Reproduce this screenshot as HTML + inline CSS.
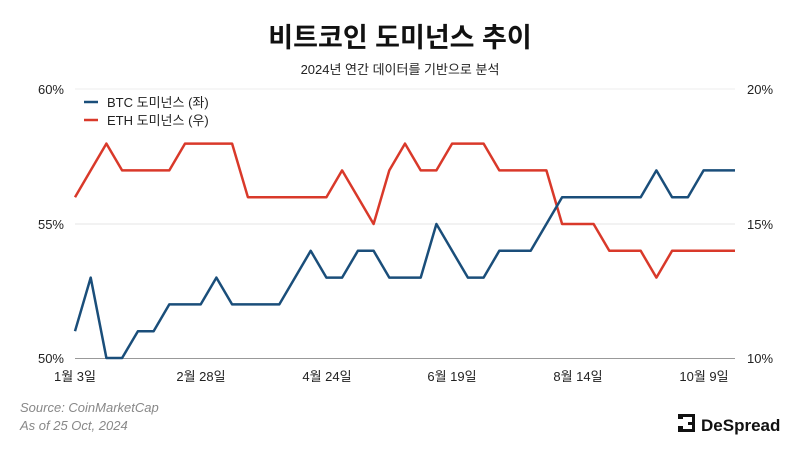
<!DOCTYPE html>
<html><head><meta charset="utf-8"><style>
html,body{margin:0;padding:0;background:#fff;width:800px;height:450px;overflow:hidden}
svg text{font-family:"Liberation Sans","Noto Sans CJK KR",sans-serif}
</style></head><body>
<svg id="s" width="800" height="450" xmlns="http://www.w3.org/2000/svg">
<text x="400" y="47" text-anchor="middle" font-size="27" font-weight="bold" fill="#111">비트코인 도미넌스 추이</text>
<text x="400" y="74" text-anchor="middle" font-size="13" fill="#222">2024년 연간 데이터를 기반으로 분석</text>
<line x1="75" y1="89" x2="735" y2="89" stroke="#eee" stroke-width="1"/>
<line x1="75" y1="224" x2="735" y2="224" stroke="#e4e4e4" stroke-width="1"/>
<line x1="75" y1="358.5" x2="735" y2="358.5" stroke="#999" stroke-width="1"/>
<g font-size="13" fill="#222">
<text x="64" y="94" text-anchor="end">60%</text>
<text x="64" y="229" text-anchor="end">55%</text>
<text x="64" y="363" text-anchor="end">50%</text>
<text x="747" y="94">20%</text>
<text x="747" y="229">15%</text>
<text x="747" y="363">10%</text>
<text x="75" y="381" text-anchor="middle">1월 3일</text>
<text x="201" y="381" text-anchor="middle">2월 28일</text>
<text x="327" y="381" text-anchor="middle">4월 24일</text>
<text x="452" y="381" text-anchor="middle">6월 19일</text>
<text x="578" y="381" text-anchor="middle">8월 14일</text>
<text x="704" y="381" text-anchor="middle">10월 9일</text>
</g>
<line x1="84" y1="102" x2="98" y2="102" stroke="#1a4e7a" stroke-width="2.5"/>
<line x1="84" y1="120" x2="98" y2="120" stroke="#d9392a" stroke-width="2.5"/>
<text x="107" y="107" font-size="13" fill="#222">BTC 도미넌스 (좌)</text>
<text x="107" y="125" font-size="13" fill="#222">ETH 도미넌스 (우)</text>
<polyline id="eth" fill="none" stroke="#d9392a" stroke-width="2.5" stroke-linejoin="round"/>
<polyline id="btc" fill="none" stroke="#1a4e7a" stroke-width="2.5" stroke-linejoin="round"/>
<text x="20" y="412" font-size="13" font-style="italic" fill="#888">Source: CoinMarketCap</text>
<text x="20" y="430" font-size="13" font-style="italic" fill="#888">As of 25 Oct, 2024</text>
<g fill="#111">
<rect x="678" y="414" width="5" height="5"/><rect x="678" y="414" width="10" height="3"/>
<rect x="678" y="426" width="5" height="6"/><rect x="678" y="429" width="10" height="3"/>
<rect x="688" y="414" width="7" height="3"/><rect x="692" y="414" width="3" height="18"/>
<rect x="688" y="422" width="7" height="3"/><rect x="688" y="429" width="7" height="3"/>
</g>
<text x="701" y="431" font-size="17" font-weight="bold" fill="#111">DeSpread</text>
</svg>
<script>
var btc=[51,53,50,50,51,51,52,52,52,53,52,52,52,52,53,54,53,53,54,54,53,53,53,55,54,53,53,54,54,54,55,56,56,56,56,56,56,57,56,56,57,57,57];
var eth=[16,17,18,17,17,17,17,18,18,18,18,16,16,16,16,16,16,17,16,15,17,18,17,17,18,18,18,17,17,17,17,15,15,15,14,14,14,13,14,14,14,14,14];
function pts(a,base){return a.map(function(v,i){return (75+i*660/42).toFixed(1)+","+(224-(v-base)*26.8).toFixed(1)}).join(" ")}
document.getElementById("btc").setAttribute("points",pts(btc,55));
document.getElementById("eth").setAttribute("points",pts(eth,15));
</script>
</body></html>
